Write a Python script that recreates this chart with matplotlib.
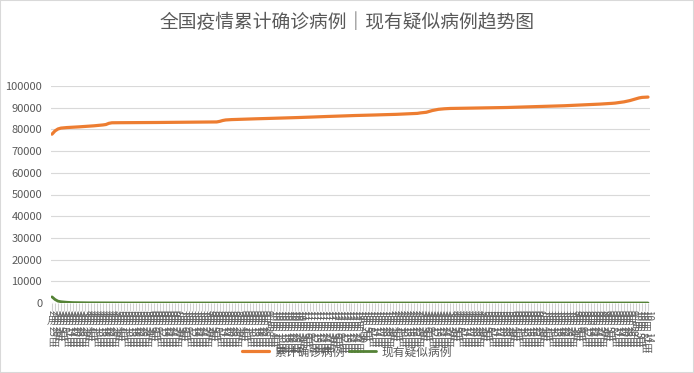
import matplotlib
matplotlib.use("Agg")
import matplotlib.pyplot as plt
from matplotlib.patches import Rectangle
import pandas as pd

plt.rcParams['font.family'] = ['Noto Sans CJK SC', 'DejaVu Sans']

title = "全国疫情累计确诊病例｜现有疑似病例趋势图"
series_names = ["累计确诊病例", "现有疑似病例"]

# dates every 3 days (category axis)
dates = pd.date_range("2020-02-25", periods=200, freq="3D")

confirmed = [
    77800, 79300, 80200, 80600, 80750, 80850, 80920, 81000, 81080, 81170,
    81260, 81350, 81450, 81550, 81650, 81780, 81900, 82050, 82250, 82800,
    83050, 83075, 83081, 83090, 83094, 83102, 83113, 83120, 83126, 83138,
    83147, 83151, 83160, 83172, 83180, 83185, 83197, 83210, 83214, 83222,
    83235, 83241, 83250, 83262, 83270, 83276, 83290, 83301, 83307, 83318,
    83330, 83338, 83351, 83370, 83395, 83440, 83700, 84100, 84350, 84450,
    84520, 84570, 84610, 84640, 84690, 84740, 84770, 84820, 84880, 84910,
    84950, 84980, 85040, 85090, 85120, 85150, 85200, 85260, 85290, 85320,
    85380, 85430, 85460, 85500, 85560, 85600, 85640, 85700, 85760, 85800,
    85840, 85900, 85960, 86000, 86040, 86110, 86150, 86200, 86240, 86300,
    86340, 86390, 86420, 86470, 86500, 86530, 86590, 86620, 86650, 86710,
    86740, 86770, 86830, 86860, 86900, 86940, 87000, 87050, 87100, 87150,
    87200, 87280, 87380, 87600, 87750, 87900, 88300, 88700, 89000, 89250,
    89400, 89500, 89580, 89650, 89680, 89700, 89720, 89740, 89760, 89790,
    89810, 89830, 89850, 89870, 89890, 89910, 89930, 89950, 89970, 90000,
    90030, 90070, 90100, 90140, 90170, 90210, 90250, 90280, 90320, 90360,
    90390, 90430, 90460, 90500, 90550, 90600, 90650, 90700, 90750, 90800,
    90850, 90900, 90960, 91010, 91070, 91120, 91180, 91240, 91300, 91360,
    91430, 91500, 91580, 91660, 91740, 91830, 91920, 92010, 92120, 92300,
    92500, 92700, 93000, 93300, 93700, 94100, 94500, 94750, 94850, 94900,
]

suspected = [
    2824, 1620, 851, 587, 452, 331, 248, 182, 153, 124, 108, 96, 88, 79, 71, 64, 72, 58, 47, 41,
    38, 33, 29, 25, 22, 19, 15, 12, 9, 8, 7, 6, 5, 4, 6, 8, 9, 7, 5, 4,
    3, 3, 2, 4, 5, 6, 8, 11, 9, 7, 6, 4, 3, 2, 2, 3, 4, 3, 2, 1,
    2, 3, 5, 7, 9, 12, 10, 8, 6, 4, 3, 2, 2, 1, 1, 2, 3, 2, 1, 1,
    2, 2, 3, 4, 6, 5, 4, 3, 2, 2, 1, 1, 2, 1, 3, 4, 2, 1, 1, 2,
    3, 5, 4, 3, 2, 1, 1, 2, 2, 3, 2, 1, 1, 0, 1, 2, 1, 1, 0, 1,
    2, 3, 6, 9, 14, 11, 8, 6, 4, 3, 2, 2, 1, 1, 2, 1, 1, 0, 1, 1,
    2, 1, 1, 2, 3, 2, 1, 1, 2, 3, 4, 3, 2, 1, 1, 0, 1, 2, 1, 1,
    1, 2, 3, 5, 4, 3, 2, 1, 1, 2, 3, 6, 8, 5, 3, 2, 1, 1, 2, 1,
    1, 2, 1, 1, 3, 4, 3, 2, 1, 1, 2, 5, 9, 12, 8, 6, 4, 3, 2, 1,
]

yticks = list(range(0, 100001, 10000))

fig = plt.figure(figsize=(6.94, 3.73), dpi=100)
ax = fig.add_axes([50.5 / 694, 70 / 373, 599 / 694, 217 / 373])

x = list(range(len(dates)))
l1, = ax.plot(x, confirmed, color="#ED7D31", lw=2.3, solid_capstyle="round")
l2, = ax.plot(x, suspected, color="#548235", lw=2.0, solid_capstyle="round")

ax.set_xlim(-0.5, len(dates) - 0.5)
ax.set_ylim(0, 100000)
ax.set_yticks(yticks)
ax.set_yticklabels([str(v) for v in yticks], fontsize=8, color="#595959")
ax.grid(axis="y", color="#d9d9d9", lw=0.8)
ax.set_axisbelow(True)
for s in ax.spines.values():
    s.set_visible(False)
ax.tick_params(axis="y", length=0, pad=6)

ax.set_xticks(x)
ax.set_xticklabels([""] * len(x))
ax.tick_params(axis="x", length=6, width=0.8, color="#d0d0d0")

# East-Asian vertical category labels: digits turned sideways, CJK upright
fs = 7
pt = 0.72  # points per pixel at 100 dpi
for i, d in enumerate(dates):
    yoff = -7 * pt
    for txt, turned in [(str(d.month), True), ("月", False), (str(d.day), True), ("日", False)]:
        ax.annotate(txt, xy=(i, 0), xycoords=("data", "axes fraction"),
                    xytext=(0, yoff), textcoords="offset points",
                    rotation=-90 if turned else 0, ha="center", va="top",
                    fontsize=fs, color="#666666", annotation_clip=False)
        yoff -= (len(txt) * 5.8 if turned else 10.5) * pt

fig.text(0.5, 1 - 22 / 373, title, ha="center", va="center", fontsize=13.5, color="#595959")

fig.legend([l1, l2], series_names, loc="center", bbox_to_anchor=(0.5, 21 / 373), ncol=2,
           frameon=False, fontsize=8.5, handlelength=2.3, handletextpad=0.5,
           columnspacing=0.3, labelcolor="#595959")

fig.patches.append(Rectangle((0, 0), 1, 1, transform=fig.transFigure, fill=False,
                             edgecolor="#d9d9d9", lw=1.5))

fig.savefig("out.png", dpi=100)
